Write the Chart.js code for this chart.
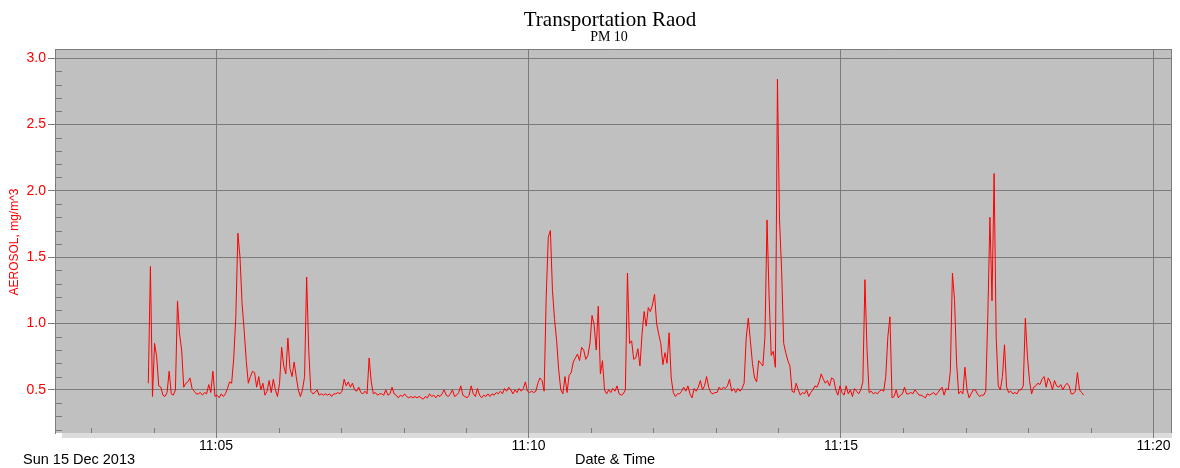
<!DOCTYPE html>
<html>
<head>
<meta charset="utf-8">
<title>Transportation Raod - PM 10</title>
<script src="https://cdn.jsdelivr.net/npm/chart.js@4/dist/chart.umd.min.js"></script>
<style>
  html, body { margin: 0; padding: 0; background: #ffffff; }
  canvas { display: block; }
</style>
</head>
<body>
<canvas id="chart" width="1180" height="468"></canvas>
<script>
// Logger samples: first sample time (seconds after 11:00:00) and sampling interval
const startSeconds = 235;   // 11:03:55
const stepSeconds = 2;

// AEROSOL concentration, mg/m^3, one value per sample
const aerosol = [
  0.55,1.43,0.45,0.85,0.75,0.53,0.52,0.46,0.45,0.48,
  0.64,0.47,0.46,0.50,1.17,0.92,0.80,0.52,0.55,0.56,
  0.59,0.51,0.49,0.47,0.47,0.48,0.46,0.48,0.47,0.54,
  0.48,0.64,0.45,0.46,0.44,0.47,0.45,0.47,0.51,0.56,
  0.55,0.74,1.05,1.68,1.50,1.15,0.95,0.72,0.55,0.60,
  0.64,0.63,0.52,0.60,0.50,0.55,0.46,0.49,0.57,0.48,
  0.58,0.50,0.45,0.55,0.82,0.68,0.62,0.89,0.66,0.60,
  0.71,0.60,0.50,0.45,0.50,0.60,1.35,0.80,0.49,0.47,
  0.48,0.50,0.46,0.47,0.46,0.47,0.46,0.47,0.45,0.47,
  0.47,0.48,0.47,0.49,0.58,0.53,0.56,0.52,0.55,0.50,
  0.49,0.52,0.48,0.47,0.49,0.47,0.74,0.56,0.47,0.48,
  0.46,0.47,
  0.47,0.46,0.50,0.46,0.47,0.52,0.47,0.46,0.44,0.46,
  0.45,0.47,0.45,0.44,0.45,0.44,0.45,0.44,0.45,0.44,
  0.43,0.45,0.44,0.47,0.45,0.46,0.44,0.46,0.45,0.47,
  0.50,0.46,0.45,0.47,0.50,0.45,0.46,0.48,0.53,0.46,
  0.45,0.44,0.46,0.53,0.47,0.45,0.51,0.46,0.44,0.46,
  0.45,0.47,0.45,0.47,0.46,0.48,0.47,0.49,0.47,0.51,
  0.49,0.52,0.50,0.47,0.50,0.48,0.51,0.49,0.51,0.56,
  0.49,0.48,0.49,0.48,0.49,0.55,0.59,0.57,0.49,1.20,
  1.65,1.70,1.25,1.03,0.87,0.65,0.50,0.47,0.60,0.48,
  0.61,0.63,0.71,0.74,0.77,0.72,0.82,0.80,0.73,0.76,
  0.85,1.06,0.99,0.80,1.13,0.62,0.72,0.50,0.47,0.50,
  0.48,0.51,0.49,0.53,0.47,
  0.46,0.47,0.50,1.38,0.85,0.87,0.73,0.74,0.81,0.68,
  0.92,1.09,0.98,1.12,1.09,1.14,1.22,1.00,0.92,0.85,
  0.69,0.78,0.70,0.93,0.59,0.48,0.45,0.47,0.47,0.49,
  0.52,0.49,0.53,0.47,0.44,0.51,0.49,0.52,0.57,0.50,
  0.53,0.60,0.52,0.48,0.47,0.48,0.48,0.52,0.50,0.52,
  0.51,0.53,0.58,0.49,0.51,0.48,0.51,0.49,0.51,0.55,
  0.89,1.04,0.87,0.70,0.59,0.56,0.72,0.70,0.68,0.90,
  1.78,1.20,0.76,0.79,0.67,2.84,1.78,1.40,0.85,0.78,
  0.72,0.68,0.49,0.48,0.55,0.50,0.46,0.48,0.47,0.50,
  0.45,0.48,0.50,0.53,0.52,0.56,0.62,0.58,0.55,0.57,
  0.53,0.59,0.58,0.50,0.46,0.53,0.48,0.46,0.53,0.47,
  0.50,0.45,0.51,0.49,0.47,
  0.50,0.56,1.33,0.80,0.48,0.49,0.47,0.48,0.47,0.49,
  0.50,0.49,0.60,0.90,1.05,0.44,0.45,0.50,0.44,0.46,
  0.47,0.52,0.47,0.47,0.48,0.47,0.50,0.48,0.46,0.46,
  0.45,0.44,0.47,0.46,0.47,0.48,0.46,0.48,0.50,0.52,
  0.46,0.51,0.50,0.64,1.38,1.18,0.70,0.47,0.49,0.47,
  0.67,0.50,0.44,0.47,0.50,0.50,0.47,0.45,0.46,0.46,
  0.49,1.07,1.80,1.17,2.13,0.90,0.53,0.50,0.60,0.84,
  0.52,0.48,0.49,0.47,0.48,0.47,0.50,0.50,0.53,1.04,
  0.75,0.57,0.47,0.52,0.53,0.55,0.54,0.58,0.60,0.52,
  0.59,0.56,0.50,0.57,0.53,0.52,0.54,0.50,0.53,0.55,
  0.53,0.47,0.47,0.49,0.63,0.50,0.48,0.46
];

// Time axis (seconds after 11:00:00)
const xRange = [145.4, 1217.8];
const majorTickSeconds = [300, 600, 900, 1200];
const tickLabels = ['11:05', '11:10', '11:15', '11:20'];
const minorTickSeconds = [180, 240, 360, 420, 480, 540, 660, 720, 780, 840, 960, 1020, 1080, 1140];

// Value axis
const yRange = [0.175, 3.068];
const yMajorTicks = [0.5, 1.0, 1.5, 2.0, 2.5, 3.0];
const yMinorTicks = [0.2, 0.3, 0.4, 0.6, 0.7, 0.8, 0.9, 1.1, 1.2, 1.3, 1.4, 1.6, 1.7, 1.8, 1.9,
                     2.1, 2.2, 2.3, 2.4, 2.6, 2.7, 2.8, 2.9];

const chartTitle = 'Transportation Raod';
const chartSubtitle = 'PM 10';
const yTitle = 'AEROSOL, mg/m^3';
const xTitle = 'Date & Time';
const dateLabel = 'Sun 15 Dec 2013';

const SANS = '"Liberation Sans", Arial, sans-serif';
const SERIF = '"Liberation Serif", "Times New Roman", serif';
const GRID = '#7c7c7c';

const points = aerosol.map((v, i) => ({ x: startSeconds + i * stepSeconds, y: v }));

// Plot background, floor band, minor ticks, frame and captions
const framePlugin = {
  id: 'frame',
  beforeDraw(chart) {
    const { ctx, chartArea: a } = chart;
    ctx.save();
    ctx.fillStyle = '#ffffff';
    ctx.fillRect(0, 0, chart.width, chart.height);
    ctx.fillStyle = '#c0c0c0';
    ctx.fillRect(a.left, a.top, a.right - a.left, a.bottom - a.top);
    ctx.fillStyle = '#dcdcdc';
    ctx.fillRect(a.left + 7, a.bottom, a.right - a.left - 7, 5);
    ctx.restore();
  },
  beforeDatasetsDraw(chart) {
    const { ctx, chartArea: a, scales } = chart;
    ctx.save();
    ctx.strokeStyle = GRID;
    ctx.lineWidth = 1;
    ctx.beginPath();
    yMinorTicks.forEach(v => {
      const y = Math.round(scales.y.getPixelForValue(v)) + 0.5;
      ctx.moveTo(a.left, y);
      ctx.lineTo(a.left + 7, y);
    });
    minorTickSeconds.forEach(s => {
      const x = Math.round(scales.x.getPixelForValue(s)) + 0.5;
      ctx.moveTo(x, a.bottom);
      ctx.lineTo(x, a.bottom - 5);
    });
    ctx.stroke();
    ctx.restore();
  },
  afterDraw(chart) {
    const { ctx, chartArea: a } = chart;
    ctx.save();
    ctx.strokeStyle = GRID;
    ctx.lineWidth = 1;
    ctx.beginPath();
    ctx.moveTo(a.left, Math.round(a.top) + 0.5);
    ctx.lineTo(a.right, Math.round(a.top) + 0.5);
    ctx.moveTo(Math.round(a.right) - 0.5, a.top);
    ctx.lineTo(Math.round(a.right) - 0.5, a.bottom);
    ctx.stroke();

    ctx.fillStyle = '#000000';
    ctx.textAlign = 'center';
    ctx.textBaseline = 'alphabetic';
    ctx.font = '21px ' + SERIF;
    ctx.fillText(chartTitle, 610, 26);
    ctx.font = '14px ' + SERIF;
    ctx.fillText(chartSubtitle, 609, 41);

    ctx.font = '14.5px ' + SANS;
    ctx.fillText(xTitle, 615, 464);
    ctx.textAlign = 'left';
    ctx.fillText(dateLabel, 23, 464);

    ctx.translate(15, 242);
    ctx.rotate(-Math.PI / 2);
    ctx.textAlign = 'center';
    ctx.textBaseline = 'middle';
    ctx.fillStyle = '#ff0000';
    ctx.font = '12px ' + SANS;
    ctx.fillText(yTitle, 0, 0);
    ctx.restore();
  }
};

new Chart(document.getElementById('chart'), {
  type: 'line',
  data: {
    datasets: [{
      data: points,
      borderColor: '#ff0000',
      borderWidth: 1,
      pointRadius: 0,
      tension: 0,
      fill: false
    }]
  },
  options: {
    responsive: false,
    animation: false,
    layout: { padding: { top: 49, right: 8, left: 0, bottom: 0 } },
    plugins: {
      legend: { display: false },
      tooltip: { enabled: false },
      title: { display: false }
    },
    scales: {
      x: {
        type: 'linear',
        min: xRange[0],
        max: xRange[1],
        afterFit(scale) { scale.height = 35; },
        afterBuildTicks(scale) { scale.ticks = majorTickSeconds.map(v => ({ value: v })); },
        ticks: {
          autoSkip: false,
          maxRotation: 0,
          padding: 0,
          color: '#000000',
          font: { family: SANS, size: 14 },
          callback: (value, index) => tickLabels[index]
        },
        grid: { color: GRID, tickColor: GRID, tickLength: 5, lineWidth: 1 },
        border: { display: false }
      },
      y: {
        type: 'linear',
        min: yRange[0],
        max: yRange[1],
        afterFit(scale) { scale.width = 55; },
        afterBuildTicks(scale) { scale.ticks = yMajorTicks.map(v => ({ value: v })); },
        ticks: {
          padding: 2,
          color: '#ff0000',
          font: { family: SANS, size: 14 },
          callback: value => value.toFixed(1)
        },
        grid: { color: GRID, tickColor: GRID, tickLength: 7, lineWidth: 1 },
        border: { display: true, color: GRID }
      }
    }
  },
  plugins: [framePlugin]
});
</script>
</body>
</html>
